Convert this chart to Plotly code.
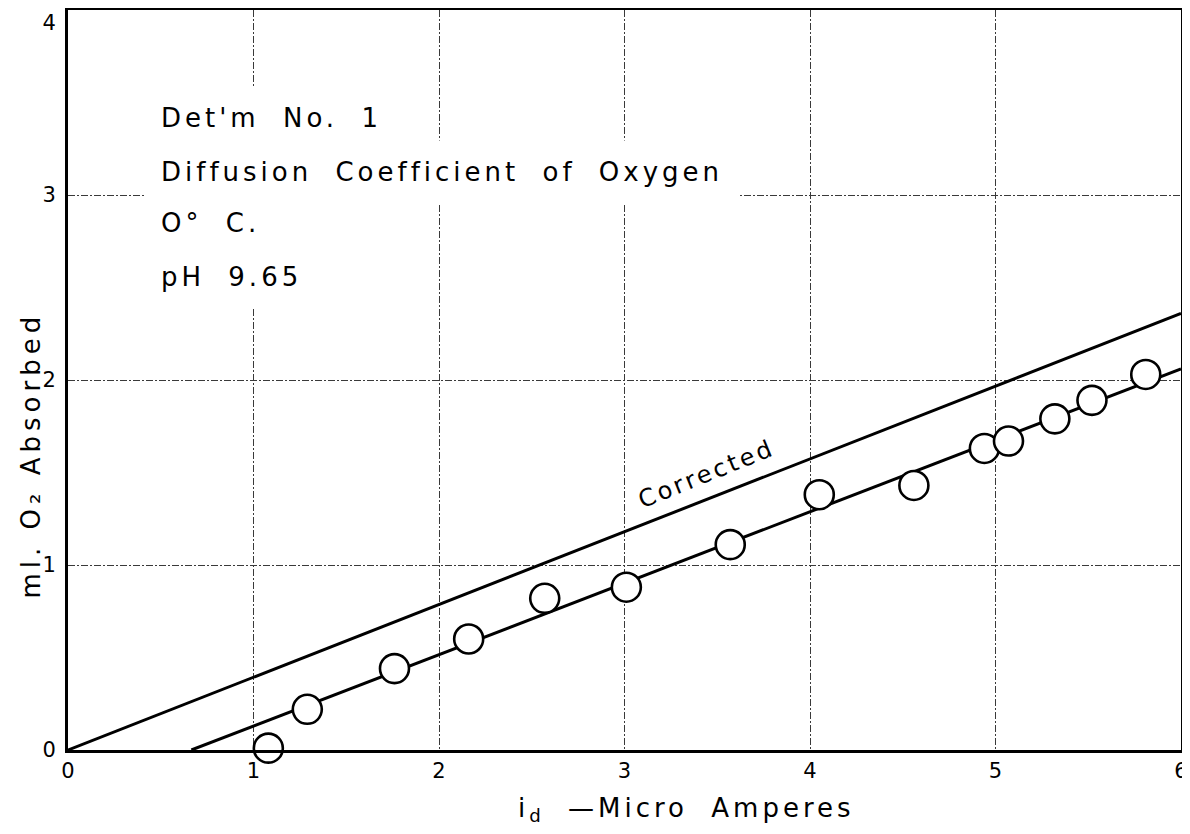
import plotly.graph_objects as go

# ---- data ----
id_points = [1.08, 1.29, 1.76, 2.16, 2.57, 3.01, 3.57, 4.05, 4.56, 4.94, 5.07, 5.32, 5.52, 5.81]
o2_points = [0.01, 0.22, 0.44, 0.60, 0.82, 0.88, 1.11, 1.38, 1.43, 1.63, 1.67, 1.79, 1.89, 2.03]

fit_x = [0.665, 6.0]
fit_y = [0.0, 2.06]

corrected_x = [0.0, 6.0]
corrected_y = [0.0, 2.36]

x_ticks = [0, 1, 2, 3, 4, 5, 6]
y_tick_labels = ["0", "1", "2", "3", "4"]
y_tick_pos = [0, 1, 2, 3, 3.93]      # the "4" is lettered just below the top frame
y_grid = [1, 2, 3]

info_lines = ["Det'm No. 1", "Diffusion Coefficient of Oxygen", "O° C.", "pH 9.65"]
info_y = [3.416, 3.124, 2.848, 2.556]

FONT = "DejaVu Sans"
LS = "letter-spacing:4px;word-spacing:11px"
GRIDCOLOR = "#3a3a3a"
GRIDDASH = "7px,2px,2px,2px"

fig = go.Figure()
fig.add_trace(go.Scatter(x=corrected_x, y=corrected_y, mode="lines",
                         line=dict(color="black", width=3), showlegend=False,
                         hoverinfo="skip"))
fig.add_trace(go.Scatter(x=fit_x, y=fit_y, mode="lines",
                         line=dict(color="black", width=3), showlegend=False,
                         hoverinfo="skip"))
fig.add_trace(go.Scatter(x=id_points, y=o2_points, mode="markers",
                         marker=dict(symbol="circle", size=29, color="white",
                                     line=dict(color="black", width=2.6)),
                         cliponaxis=False, showlegend=False))

annotations = []
for txt, yy in zip(info_lines, info_y):
    annotations.append(dict(
        x=0.41, y=yy, xref="x", yref="y", xanchor="left", yanchor="middle",
        text=f'<span style="{LS}">{txt}</span>', showarrow=False,
        font=dict(family=FONT, size=26, color="black"),
        bgcolor="white", borderpad=16))

annotations.append(dict(
    x=3.44, y=1.494, xref="x", yref="y", xanchor="center", yanchor="middle",
    text='<span style="letter-spacing:3px">Corrected</span>', showarrow=False,
    textangle=-22, font=dict(family=FONT, size=24, color="black")))

# axis titles
annotations.append(dict(
    x=-0.0332, y=0.398, xref="paper", yref="paper", xanchor="center", yanchor="middle",
    text='<span style="letter-spacing:5px">ml. O₂ Absorbed</span>', showarrow=False,
    textangle=-90, font=dict(family=FONT, size=26, color="black")))
annotations.append(dict(
    x=0.556, y=-0.081, xref="paper", yref="paper", xanchor="center", yanchor="middle",
    text=f'<span style="{LS}">i<sub>d</sub> —Micro Amperes</span>', showarrow=False,
    font=dict(family=FONT, size=26, color="black")))

common = dict(zeroline=False, showline=True, linecolor="black", linewidth=3, mirror=True,
              ticks="", automargin=False, ticklabeloverflow="allow",
              tickfont=dict(family=FONT, size=21, color="black"))

# the page body adds an 8px offset, so the figure is 8px smaller and margins shifted
fig.update_layout(
    width=1182, height=826,
    margin=dict(l=60, r=9, t=2, b=84),
    paper_bgcolor="white", plot_bgcolor="white",
    showlegend=False,
    annotations=annotations,
    xaxis=dict(range=[0, 6], tickvals=x_ticks, ticktext=[str(v) for v in x_ticks],
               ticklabelstandoff=0, showgrid=True, gridcolor=GRIDCOLOR, gridwidth=1,
               griddash=GRIDDASH, **common),
    yaxis=dict(range=[0, 4], tickvals=y_tick_pos, ticktext=y_tick_labels,
               ticklabelstandoff=5, showgrid=False,
               minor=dict(tickvals=y_grid, showgrid=True, gridcolor=GRIDCOLOR,
                          gridwidth=1, griddash=GRIDDASH, ticks=""),
               **common),
)

fig.write_html("out.html")
